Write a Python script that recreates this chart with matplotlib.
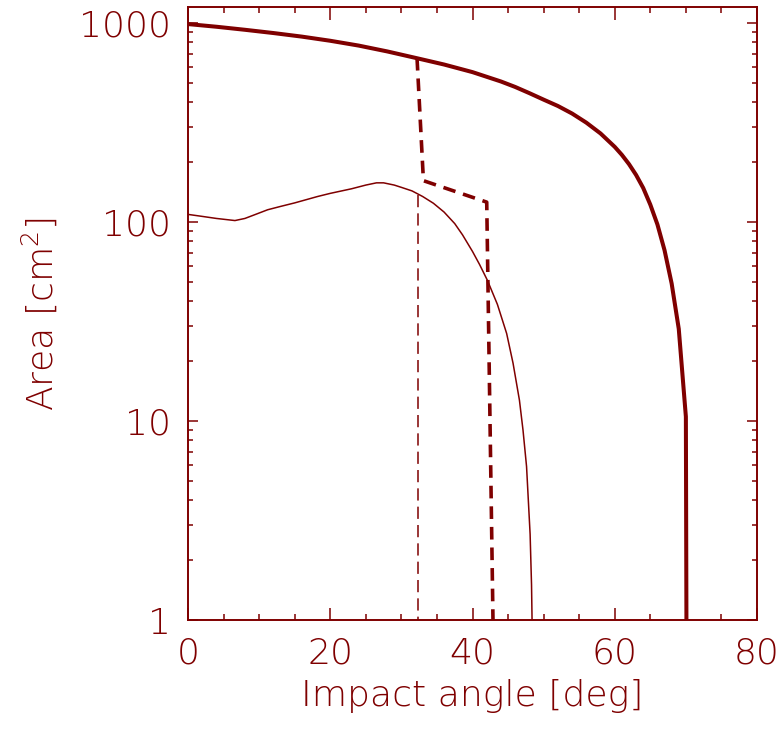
import numpy as np
import matplotlib
matplotlib.use('Agg')
import matplotlib.pyplot as plt
from matplotlib import font_manager
from matplotlib.ticker import MultipleLocator, LogLocator, FixedLocator, NullFormatter

red = '#7f0000'

# total area vs impact angle (thick solid)
ang_tot = [0, 4, 8, 12, 16, 20, 24, 28, 32, 36, 40, 44, 46, 48, 50, 52, 54, 56, 58, 60, 61, 62, 63, 64, 65, 66, 67, 68, 69, 70, 70.1]
area_tot = [985, 955, 922, 888, 852, 812, 768, 718, 666, 617, 565, 507, 476, 443, 411, 382, 350, 315, 278, 238, 217, 195, 172, 148, 122, 97, 72, 49, 29, 10.5, 0.5]

# effective area (thin solid)
ang_eff = [0, 2, 4, 6.6, 8, 9.5, 11.2, 13, 15, 18.2, 20, 23, 25, 26.5, 27.5, 29, 30, 31.5, 33, 34.5, 36, 37.5, 38.6,
           40, 41, 42.1, 43.5, 44.8, 45.7, 46.6, 47.1, 47.6, 48.1, 48.3, 48.5]
area_eff = [109, 106.5, 104, 101.5, 104, 109, 115, 119.5, 124.5, 134, 139, 146.6, 153, 157, 157, 153, 149, 143, 134, 124, 112, 98, 86,
            71, 61, 50.8, 38.5, 27.5, 19.5, 12.7, 9, 5.9, 2.7, 1.5, 0.5]

# cut-off curves (dashed)
ang_cut_thick = [32.2, 33.1, 42.0, 42.9]
area_cut_thick = [666, 161, 125.6, 0.9]
ang_cut_thin = [32.35, 32.35]
area_cut_thin = [137, 0.5]

# pick a thin face if one is installed
fam, wt = 'DejaVu Sans', 'normal'
have = {(f.name, f.weight) for f in font_manager.fontManager.ttflist}
for name, w in [('DejaVu Sans', 200), ('Lato', 300), ('Open Sans', 300), ('Roboto', 300), ('Noto Sans', 300)]:
    if (name, w) in have:
        fam, wt = name, w
        break

plt.rcParams['font.family'] = fam
plt.rcParams['font.weight'] = wt
plt.rcParams['axes.labelweight'] = wt
plt.rcParams['mathtext.default'] = 'regular'

fig = plt.figure(figsize=(7.84, 7.36), dpi=100)
ax = fig.add_axes([188/784, 116/736, 569/784, 613/736])

ax.plot(ang_tot, area_tot, color=red, lw=2.9)
ax.plot(ang_eff, area_eff, color=red, lw=1.1)
ax.plot(ang_cut_thick, area_cut_thick, color=red, lw=2.6, dashes=(3.5, 2.2))
ax.plot(ang_cut_thin, area_cut_thin, color=red, lw=1.1, dashes=(8, 4))

ax.set_yscale('log')
ax.set_xlim(0, 80)
ax.set_ylim(1, 1200)

ax.xaxis.set_major_locator(MultipleLocator(20))
ax.xaxis.set_minor_locator(MultipleLocator(5))
ax.yaxis.set_major_locator(FixedLocator([1, 10, 100, 1000]))
ax.yaxis.set_minor_locator(LogLocator(base=10, subs=np.arange(2, 10)))
ax.yaxis.set_minor_formatter(NullFormatter())
ax.set_yticklabels(['1', '10', '100', '1000'])

for s in ax.spines.values():
    s.set_color(red)
    s.set_linewidth(1.4)

ax.tick_params(which='both', direction='in', top=True, right=True, colors=red,
               labelcolor=red, labelsize=26, width=1.1)
ax.tick_params(axis='x', which='major', length=9, pad=12)
ax.tick_params(axis='x', which='minor', length=4.5)
ax.tick_params(axis='y', which='major', length=7, pad=12)
ax.tick_params(axis='y', which='minor', length=3.5)

ax.set_xlabel('Impact angle [deg]', color=red, fontsize=26, fontweight=wt, labelpad=6)
ax.set_ylabel('Area [cm$^2$]', color=red, fontsize=26, fontweight=wt, labelpad=14)

fig.savefig('out.png', dpi=100)
